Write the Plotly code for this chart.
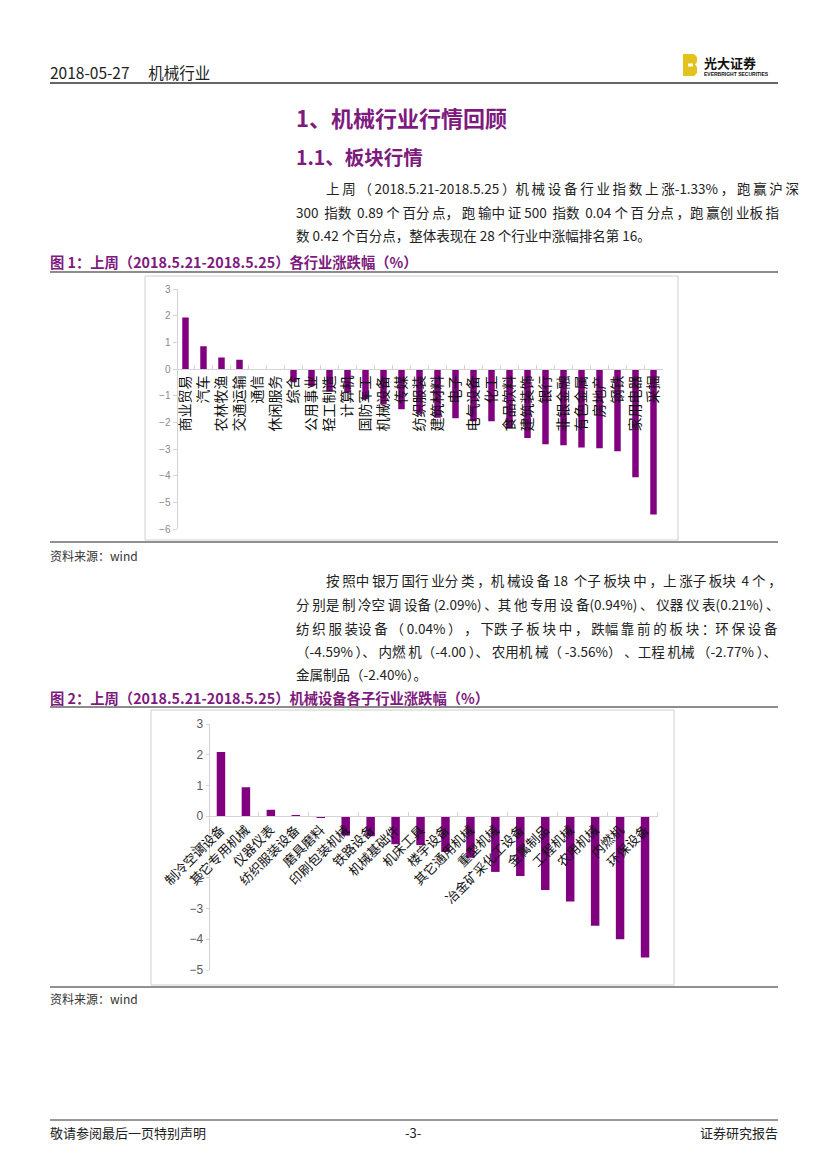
import plotly.graph_objects as go

W, H = 827, 1169
OFF = 8  # page body margin of the viewer, compensated in layout coordinates
PURPLE = "#800080"
HEAD = "#7E1A7E"
FONT = "Noto Sans CJK SC"

# ---------------- data ----------------
ind_names = ["商业贸易", "汽车", "农林牧渔", "交通运输", "通信", "休闲服务", "综合", "公用事业",
             "轻工制造", "计算机", "国防军工", "机械设备", "传媒", "纺织服装", "建筑材料", "电子",
             "电气设备", "化工", "食品饮料", "建筑装饰", "银行", "非银金融", "有色金属", "房地产",
             "钢铁", "家用电器", "采掘"]
ind_chg = [1.93, 0.85, 0.43, 0.35, -0.01, -0.03, -0.50, -0.65, -0.84, -0.88, -1.13, -1.33, -1.51,
           -1.68, -1.83, -1.85, -1.96, -1.96, -2.22, -2.59, -2.82, -2.86, -2.94, -2.97, -3.08,
           -4.06, -5.46]

sub_names = ["制冷空调设备", "其它专用机械", "仪器仪表", "纺织服装设备", "磨具磨料", "印刷包装机械",
             "铁路设备", "机械基础件", "机床工具", "楼宇设备", "其它通用机械", "重型机械",
             "冶金矿采化工设备", "金属制品", "工程机械", "农用机械", "内燃机", "环保设备"]
sub_chg = [2.09, 0.94, 0.21, 0.04, -0.03, -0.63, -0.65, -0.91, -0.94, -1.16, -1.35, -1.81,
           -1.94, -2.40, -2.77, -3.56, -4.00, -4.59]

y1_range = [-6, 3]
y2_range = [-5, 3]


def px(x):
    return (x - OFF) / W


def py(y):
    return 1 - (y - OFF) / H


sub_idx = list(range(len(sub_names)))

fig = go.Figure()
fig.add_trace(go.Bar(x=ind_names, y=ind_chg, marker_color=PURPLE, marker_line_width=0,
                     width=0.36, xaxis="x", yaxis="y", hoverinfo="x+y"))
fig.add_trace(go.Bar(x=sub_idx, y=sub_chg, marker_color=PURPLE, marker_line_width=0,
                     width=0.34, xaxis="x2", yaxis="y2", customdata=sub_names,
                     hovertemplate="%{customdata}: %{y}<extra></extra>"))

# chart geometry (pixels)
c1_x0, c1_x1 = 176.5, 662.5
c1_ytop, c1_ybot = 289, 529
c2_x0, c2_x1 = 208.5, 657.5
c2_ytop, c2_ybot = 724, 970

y1_dom = [py(c1_ybot), py(c1_ytop)]
y2_dom = [py(c2_ybot), py(c2_ytop)]
zero1 = y1_dom[0] + (0 - y1_range[0]) / (y1_range[1] - y1_range[0]) * (y1_dom[1] - y1_dom[0])
zero2 = y2_dom[0] + (0 - y2_range[0]) / (y2_range[1] - y2_range[0]) * (y2_dom[1] - y2_dom[0])

AX = "#D4D4D4"

fig.update_layout(
    template="none",
    width=W, height=H,
    margin=dict(l=0, r=0, t=0, b=0, pad=0, autoexpand=False),
    paper_bgcolor="white", plot_bgcolor="rgba(0,0,0,0)",
    showlegend=False,
    font=dict(family=FONT, color="#222"),
    xaxis=dict(domain=[px(c1_x0), px(c1_x1)], anchor="free", position=zero1,
               type="category", tickmode="array", tickvals=ind_names, ticktext=ind_names,
               showline=True, linecolor=AX, linewidth=1, automargin=False,
               ticks="inside", tickson="boundaries", ticklen=4, tickcolor=AX,
               tickangle=-90, tickfont=dict(family=FONT, size=14, color="#111"),
               showgrid=False, zeroline=False, fixedrange=True),
    yaxis=dict(domain=y1_dom, anchor="free", position=px(c1_x0), range=y1_range,
               tickmode="linear", tick0=0, dtick=1, showline=True, linecolor=AX, linewidth=1,
               ticks="outside", automargin=False,
               ticklen=4, tickcolor=AX, tickfont=dict(family="Liberation Sans", size=10, color="#8A8A8A"),
               showgrid=False, zeroline=False, fixedrange=True),
    xaxis2=dict(domain=[px(c2_x0), px(c2_x1)], anchor="free", position=zero2,
                type="linear", range=[-0.5, len(sub_names) - 0.5],
                tickmode="array", tickvals=sub_idx, ticktext=sub_names,
                showline=True, linecolor=AX, linewidth=1, automargin=False,
                ticks="", tickangle=-45, tickfont=dict(family=FONT, size=13, color="#111"),
                minor=dict(tickvals=[i + 0.5 for i in sub_idx[1::2]], ticks="inside",
                           ticklen=4, tickcolor=AX, showgrid=False),
                showgrid=False, zeroline=False, fixedrange=True),
    yaxis2=dict(domain=y2_dom, anchor="free", position=px(c2_x0), range=y2_range,
                tickmode="linear", tick0=0, dtick=1, showline=True, linecolor=AX, linewidth=1,
                ticks="outside", automargin=False,
                ticklen=3, tickcolor=AX, tickfont=dict(family="Liberation Sans", size=12, color="#595959"),
                showgrid=False, zeroline=False, fixedrange=True),
)

shapes = []


def hline(y, x0=50, x1=778, color="#222", width=1.2):
    shapes.append(dict(type="line", xref="paper", yref="paper", x0=px(x0), x1=px(x1),
                       y0=py(y), y1=py(y), line=dict(color=color, width=width)))


def box(x0, y0, x1, y1, color="#D0D0D0"):
    shapes.append(dict(type="rect", xref="paper", yref="paper", x0=px(x0), x1=px(x1),
                       y0=py(y1), y1=py(y0), line=dict(color=color, width=1), fillcolor="rgba(0,0,0,0)"))


hline(83, color="#333", width=1.6)
hline(272, color="#8C8C8C", width=2)
box(145, 276, 678, 540)
hline(542, color="#222", width=1.2)
hline(707, color="#8C8C8C", width=2)
box(151, 710, 674, 985)
hline(987, color="#222", width=1.2)
hline(1120, color="#333", width=1)

# logo (decorative "B" block)
lx, ly = 683, 54
path = (f"M {px(lx)} {py(ly)} L {px(lx+11)} {py(ly)} L {px(lx+14)} {py(ly+3)} L {px(lx+14)} {py(ly+8)} "
        f"L {px(lx+12)} {py(ly+10.5)} L {px(lx+14)} {py(ly+13)} L {px(lx+14)} {py(ly+19)} "
        f"L {px(lx+11)} {py(ly+22)} L {px(lx)} {py(ly+22)} Z")
shapes.append(dict(type="path", xref="paper", yref="paper", path=path,
                   fillcolor="#E3C21C", line=dict(width=0)))
shapes.append(dict(type="rect", xref="paper", yref="paper", x0=px(lx+5), x1=px(lx+10),
                   y0=py(ly+9.5), y1=py(ly+12.5), fillcolor="white", line=dict(width=0)))
fig.update_layout(shapes=shapes)

ann = []


def text(s, x, y, size=13.5, color="#222", bold=False, xanchor="left", family=FONT):
    t = f"<b>{s}</b>" if bold else s
    ann.append(dict(text=t, x=px(x), y=py(y), xref="paper", yref="paper", xanchor=xanchor,
                    yanchor="middle", showarrow=False, font=dict(family=family, size=size, color=color)))


def is_wide(c):
    return ord(c) >= 0x2E80


def justify(s, extra_px, unit=3.1):
    """Spread a line to full width by inserting thin spaces next to CJK characters."""
    n = int(round(extra_px / unit))
    if n <= 0:
        return s
    gaps = [i for i in range(1, len(s)) if is_wide(s[i - 1]) or is_wide(s[i])]
    counts = {}
    for j in range(n):
        g = gaps[int((j + 0.5) * len(gaps) / n) % len(gaps)]
        counts[g] = counts.get(g, 0) + 1
    out = []
    for i, c in enumerate(s):
        out.append("\u2009" * counts.get(i, 0))
        out.append(c)
    return "".join(out)


text("2018-05-27\u3000\u2009机械行业", 48, 72, size=15.5, color="#222")
text("光大证券", 702, 63, size=13, color="#111", bold=True)
text("EVERBRIGHT SECURITIES", 702, 74, size=5, color="#111", bold=True, family="Liberation Sans")

text("1、机械行业行情回顾", 294, 117, size=22, color=HEAD, bold=True)
text("1.1、板块行情", 294, 157, size=19.5, color=HEAD, bold=True)

# (text, x, y, extra width to fill for justified lines)
para1 = [
    ("上周（2018.5.21-2018.5.25）机械设备行业指数上涨-1.33%，跑赢沪深", 324, 188, 56),
    ("300 指数 0.89 个百分点，跑输中证 500 指数 0.04 个百分点，跑赢创业板指", 294, 212, 47),
    ("数 0.42 个百分点，整体表现在 28 个行业中涨幅排名第 16。", 294, 235, 0),
]
for s, x, y, ex in para1:
    text(justify(s, ex), x, y)

text("图 1：上周（2018.5.21-2018.5.25）各行业涨跌幅（%）", 48, 262, size=14.3, color=HEAD, bold=True)
text("资料来源：wind", 48, 555, size=12, color="#333")

para2 = [
    ("按照中银万国行业分类，机械设备 18 个子板块中，上涨子板块 4 个，", 324, 580, 50),
    ("分别是制冷空调设备(2.09%)、其他专用设备(0.94%)、仪器仪表(0.21%)、", 294, 604, 50),
    ("纺织服装设备（0.04%），下跌子板块中，跌幅靠前的板块：环保设备", 294, 628, 74),
    ("（-4.59%）、内燃机（-4.00）、农用机械（-3.56%）、工程机械（-2.77%）、", 294, 651, 34),
    ("金属制品（-2.40%）。", 294, 674, 0),
]
for s, x, y, ex in para2:
    text(justify(s, ex), x, y)

text("图 2：上周（2018.5.21-2018.5.25）机械设备各子行业涨跌幅（%）", 48, 697, size=14.3, color=HEAD, bold=True)
text("资料来源：wind", 48, 998, size=12, color="#333")

text("敬请参阅最后一页特别声明", 48, 1132, size=13, color="#222")
text("-3-", 413, 1132, size=13, color="#222", xanchor="center")
text("证券研究报告", 780, 1132, size=13, color="#222", xanchor="right")

fig.update_layout(annotations=ann)

fig.write_html("out.html")
